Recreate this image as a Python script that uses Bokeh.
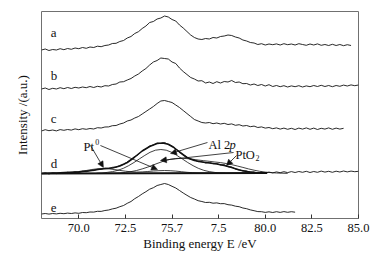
from bokeh.plotting import figure
from bokeh.models import Range1d, FixedTicker, Label, Arrow, NormalHead
from bokeh.embed import file_html
from bokeh.resources import INLINE

# ---------------- data ----------------
E0 = 68.0      # first energy of every scan (eV)
STEP = 0.2     # scan step (eV)

spec_a = [168.5, 169.5, 168.0, 169.0, 168.5, 169.8, 168.8, 170.0, 169.2, 170.5,
          169.8, 171.0, 170.2, 171.5, 171.0, 172.3, 171.8, 173.0, 173.5, 175.0,
          175.2, 177.0, 178.0, 180.5, 182.0, 185.0, 186.8, 190.0, 192.5, 196.0,
          197.0, 199.5, 200.5, 202.5, 201.5, 199.0, 197.5, 193.5, 190.5, 187.0,
          183.5, 181.0, 179.5, 179.0, 180.0, 179.5, 181.0, 180.5, 182.0, 182.5,
          183.5, 183.0, 181.5, 180.5, 178.5, 177.5, 176.0, 175.5, 174.0, 174.8,
          173.5, 174.5, 173.8, 174.6, 173.5, 174.8, 173.8, 174.5, 173.5, 174.8,
          174.0, 173.2, 174.5, 173.5, 174.6, 173.2, 174.0, 173.0, 174.2, 173.0,
          174.0, 172.8, 173.8, 173.0]

spec_b = [129.5, 130.5, 129.0, 130.2, 129.5, 130.8, 129.8, 131.0, 130.0, 131.2,
          130.5, 131.5, 130.8, 132.0, 131.0, 132.2, 131.5, 132.8, 132.5, 134.0,
          134.5, 136.5, 136.8, 138.5, 140.0, 142.5, 144.5, 147.5, 150.0, 153.5,
          156.5, 158.0, 160.5, 160.0, 159.5, 156.5, 155.0, 150.5, 147.0, 144.0,
          141.0, 139.5, 137.5, 137.8, 135.5, 136.5, 135.0, 136.8, 135.5, 137.0,
          136.5, 138.0, 136.0, 136.5, 134.8, 135.0, 133.5, 134.5, 133.0, 134.0,
          132.5, 133.8, 132.0, 133.0, 131.8, 132.8, 131.5, 132.6, 131.8, 132.8,
          131.5, 132.6, 131.8, 133.0, 132.0, 133.2, 132.0, 133.0, 131.8, 133.0,
          132.2, 133.4, 132.5, 133.6, 132.8, 133.5]

spec_c = [87.5, 88.8, 87.8, 88.5, 87.6, 88.9, 88.2, 89.0, 88.4, 89.6,
          88.8, 89.8, 89.2, 90.0, 89.5, 90.8, 90.5, 91.5, 91.6, 92.8,
          93.0, 94.5, 95.5, 97.5, 98.5, 100.5, 102.0, 104.5, 107.0, 109.5,
          112.0, 115.0, 117.5, 118.0, 117.0, 116.0, 113.5, 111.0, 108.0, 105.0,
          102.0, 99.0, 97.5, 96.0, 95.5, 96.0, 94.8, 95.5, 94.5, 95.2,
          94.0, 94.6, 93.2, 93.8, 92.5, 93.0, 91.8, 92.4, 91.0, 91.6,
          90.4, 91.0, 89.8, 90.6, 89.4, 90.4, 89.2, 90.2, 89.0, 90.4,
          89.4, 90.6, 89.2, 90.4, 89.0, 90.2, 89.4, 90.6, 89.2, 90.4,
          89.4, 90.2]

spec_d = [44.8, 45.6, 44.6, 45.5, 44.9, 45.9, 45.2, 46.2, 45.6, 46.6,
          46.0, 47.2, 46.8, 48.0, 47.9, 49.2, 49.0, 50.4, 50.0, 51.2,
          51.3, 53.0, 54.0, 56.5, 58.5, 61.8, 64.0, 67.8, 69.5, 72.5,
          73.5, 75.5, 75.0, 76.0, 74.0, 72.5, 69.5, 67.0, 63.5, 61.5,
          59.0, 58.5, 56.8, 57.0, 55.5, 56.2, 54.8, 55.0, 53.5, 53.8,
          51.8, 51.5, 49.5, 49.0, 47.5, 47.6, 46.2, 46.6, 45.5, 46.3,
          45.4, 46.4, 45.6, 46.6, 45.8, 46.8, 45.9, 46.9, 46.0, 47.0,
          46.2, 47.2, 46.0, 47.0, 46.2, 47.4, 46.4, 47.2, 46.2, 47.3,
          46.5, 47.5, 46.6, 47.4, 46.8, 47.2]

spec_e = [4.5, 5.0, 4.4, 5.0, 4.6, 5.2, 4.8, 5.4, 5.0, 5.6,
          5.2, 6.0, 5.8, 6.5, 6.4, 7.2, 7.1, 8.0, 8.5, 9.6,
          10.3, 11.8, 13.0, 15.2, 17.0, 19.8, 22.0, 24.6, 26.8, 29.3,
          30.8, 33.0, 34.0, 35.0, 34.0, 32.2, 30.5, 28.0, 25.5, 23.2,
          21.0, 19.5, 17.8, 17.0, 16.0, 16.2, 15.3, 15.6, 14.8, 14.9,
          13.8, 13.4, 12.3, 11.8, 10.5, 9.8, 8.6, 7.8, 6.9, 6.8,
          6.1, 6.7, 6.0, 6.8, 6.1, 6.9, 6.2, 6.8, 6.3]

# fitted envelope of spectrum d
env_x = [68.0, 69.0, 70.0, 70.6, 71.2, 71.8, 72.2, 72.6, 73.0, 73.4, 73.8, 74.2,
         74.5, 74.8, 75.1, 75.4, 75.8, 76.2, 76.6, 77.0, 77.4, 77.8, 78.2, 78.6,
         79.0, 79.4, 79.8, 80.1]
env_y = [45.0, 45.6, 46.6, 47.8, 49.5, 50.5, 52.5, 56.0, 61.5, 67.5, 72.0, 75.0,
         75.5, 74.3, 71.0, 66.5, 61.0, 58.0, 56.5, 55.5, 54.5, 53.0, 51.0, 48.5,
         47.0, 46.0, 45.5, 45.3]

# background line of the fit
bg_x = [68.0, 80.1]
bg_y = [45.0, 45.5]

# component Al 2p
al_x = [70.95, 71.24, 71.52, 71.81, 72.1, 72.39, 72.67, 72.96, 73.25, 73.54, 73.82,
        74.11, 74.4, 74.69, 74.98, 75.26, 75.55, 75.84, 76.13, 76.41, 76.7, 76.99,
        77.28, 77.56, 77.85]
al_y = [45.3, 45.5, 46.1, 46.9, 48.2, 50.2, 52.8, 56.0, 59.6, 63.1, 66.2, 68.3,
        69.0, 68.3, 66.2, 63.1, 59.6, 56.0, 52.8, 50.2, 48.2, 46.9, 46.1, 45.5, 45.3]

# component PtO2
pto2_x = [71.6, 71.9, 72.2, 72.5, 72.8, 73.1, 73.4, 73.7, 74.0, 74.3, 74.6, 74.9,
          75.2, 75.5, 75.8, 76.1, 76.4, 76.7, 77.0, 77.3, 77.6, 77.9, 78.2, 78.5,
          78.8, 79.1, 79.4, 79.7, 80.0, 80.3, 80.6, 80.9, 81.2]
pto2_y = [45.2, 45.3, 45.6, 46.1, 46.9, 48.0, 49.6, 51.4, 53.6, 55.7, 57.7, 59.2,
          60.0, 60.3, 59.9, 59.3, 58.5, 57.8, 57.2, 56.5, 55.9, 55.0, 53.9, 52.5,
          51.1, 49.6, 48.3, 47.2, 46.4, 45.9, 45.5, 45.3, 45.1]

# component Pt0
pt0_x = [68.6, 68.9, 69.2, 69.5, 69.8, 70.1, 70.4, 70.7, 71.0, 71.3, 71.6, 71.9,
         72.2, 72.5, 72.8, 73.1, 73.4, 73.7, 74.0, 74.3, 74.6, 74.9, 75.2, 75.5,
         75.8, 76.1, 76.4, 76.7, 77.0]
pt0_y = [45.1, 45.1, 45.3, 45.7, 46.2, 47.1, 48.0, 49.0, 49.7, 50.0, 49.7, 49.0,
         48.1, 47.3, 46.7, 46.4, 46.6, 47.0, 47.5, 47.8, 48.0, 47.8, 47.4, 46.8,
         46.2, 45.8, 45.4, 45.2, 45.1]

tick_values = [70, 72.5, 75, 77.5, 80, 82.5, 85]
tick_labels = ["70.0", "72.5", "75.7", "7.5", "80.0", "82.5", "85.0"]

curve_names = ["a", "b", "c", "d", "e"]
name_y = [186, 143, 100, 55, 11]

# ---------------- figure ----------------
FONT = "Liberation Serif"
INK = "#111111"

p = figure(width=370, height=253, output_backend="svg", toolbar_location=None,
           x_range=Range1d(68.0, 85.0), y_range=Range1d(0, 207))
p.min_border_left = 41
p.min_border_right = 12
p.min_border_top = 11
p.min_border_bottom = 35
p.xgrid.visible = False
p.ygrid.visible = False
p.outline_line_color = "#707070"
p.outline_line_width = 1
p.background_fill_color = "white"
p.border_fill_color = "white"

ax = p.xaxis[0]
ax.ticker = FixedTicker(ticks=tick_values)
ax.major_label_overrides = {v: s for v, s in zip(tick_values, tick_labels)}
ax.axis_line_color = None
ax.major_tick_in = 4
ax.major_tick_out = 0
ax.major_tick_line_color = "#333333"
ax.minor_tick_line_color = None
ax.major_label_standoff = 5
ax.major_label_text_font = FONT
ax.major_label_text_font_size = "12.5px"
ax.major_label_text_color = INK
ax.axis_label = "Binding energy E /eV"
ax.axis_label_standoff = 1
ax.axis_label_text_font = FONT
ax.axis_label_text_font_size = "13px"
ax.axis_label_text_font_style = "normal"
ax.axis_label_text_color = INK

ay = p.yaxis[0]
ay.ticker = FixedTicker(ticks=[])
ay.axis_line_color = None
ay.major_tick_line_color = None
ay.minor_tick_line_color = None
ay.major_label_text_font_size = "0px"
ay.major_label_standoff = 0
ay.axis_label = "Intensity /(a.u.)"
ay.axis_label_standoff = 12
ay.axis_label_text_font = FONT
ay.axis_label_text_font_size = "13px"
ay.axis_label_text_font_style = "normal"
ay.axis_label_text_color = INK


def grid(y):
    return [round(E0 + STEP * i, 2) for i in range(len(y))]


for ys in (spec_a, spec_b, spec_c, spec_e):
    p.line(grid(ys), ys, line_color=INK, line_width=0.9)

# spectrum d with fit
p.line(bg_x, bg_y, line_color=INK, line_width=2.0)
p.line(pt0_x, pt0_y, line_color=INK, line_width=0.8)
p.line(al_x, al_y, line_color=INK, line_width=0.8)
p.line(pto2_x, pto2_y, line_color=INK, line_width=0.8)
p.line(grid(spec_d), spec_d, line_color=INK, line_width=0.9)
p.line(env_x, env_y, line_color=INK, line_width=1.6)

# curve letters
for n, yy in zip(curve_names, name_y):
    p.add_layout(Label(x=68.5, y=yy, text=n, text_font=FONT, text_font_size="13px",
                       text_color=INK, text_align="left", text_baseline="middle"))


def lab(x, y, t, size="12.5px", style="normal"):
    p.add_layout(Label(x=x, y=y, text=t, text_font=FONT, text_font_size=size,
                       text_font_style=style, text_color=INK,
                       text_align="left", text_baseline="alphabetic"))


# component annotations
lab(70.25, 72, "Pt")
lab(70.88, 77, "0", size="8px")
lab(76.95, 74, "Al 2")
lab(78.08, 74, "p", style="italic")
lab(78.40, 64, "PtO")
lab(79.47, 61, "2", size="8px")

arrows = [
    (70.63, 73, 71.32, 51),
    (71.16, 73, 74.22, 49),
    (76.90, 76, 74.92, 65),
    (78.30, 66, 74.38, 58),
    (78.46, 63, 77.92, 53),
]
for xs, ys_, xe, ye in arrows:
    p.add_layout(Arrow(end=NormalHead(size=6, fill_color=INK, line_color=INK, line_width=0.5),
                       x_start=xs, y_start=ys_, x_end=xe, y_end=ye,
                       line_color=INK, line_width=0.8))

open("out.html", "w").write(file_html(p, INLINE))
